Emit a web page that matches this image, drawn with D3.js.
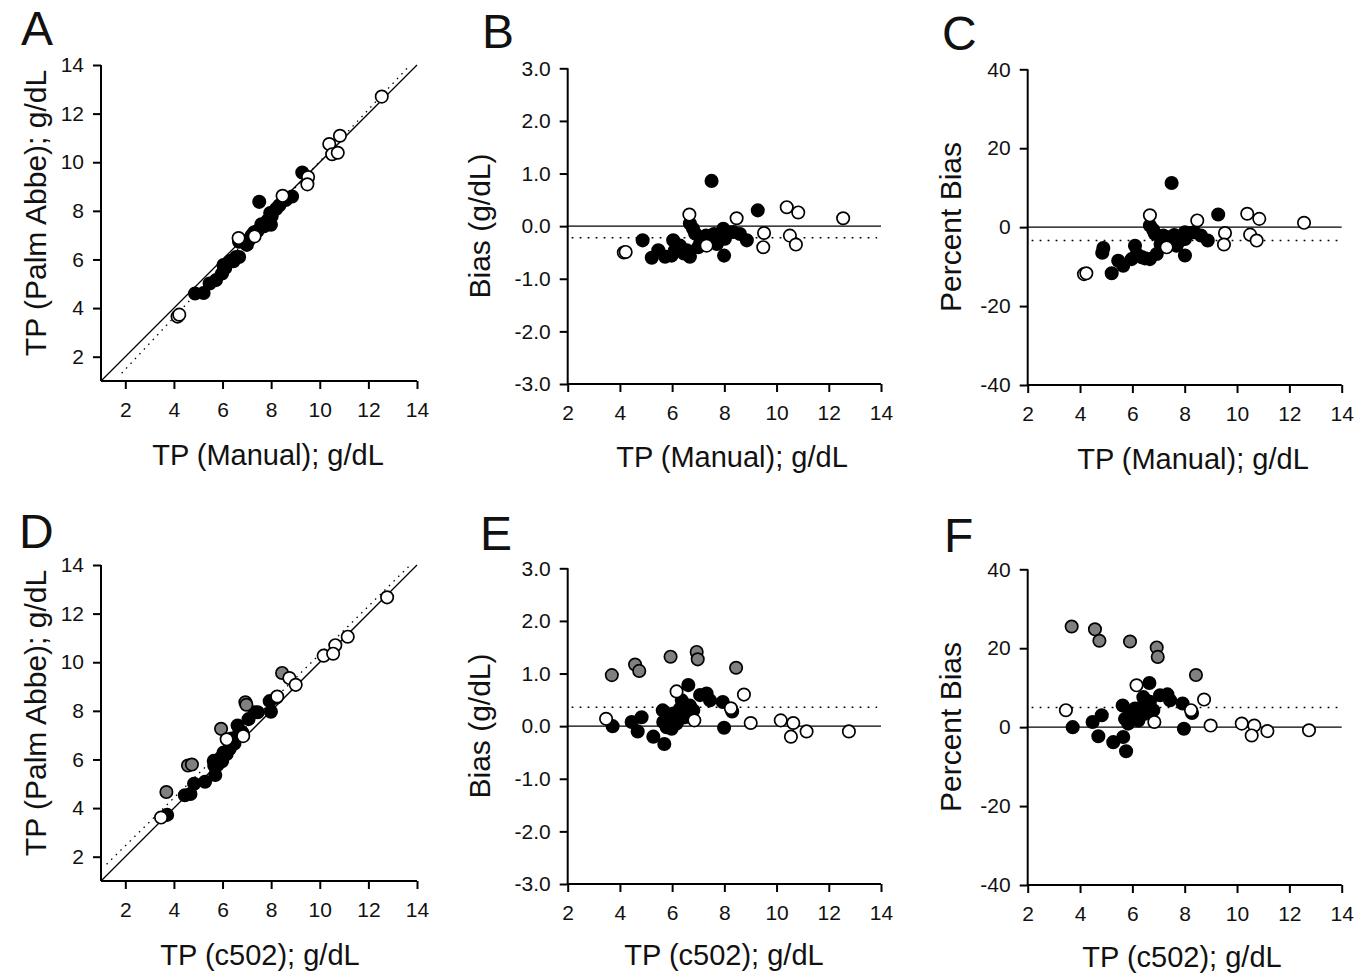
<!DOCTYPE html>
<html>
<head>
<meta charset="utf-8">
<script src="https://cdn.jsdelivr.net/npm/d3@7"></script>
<style>
  body { margin: 0; background: #fff; }
  svg { font-family: "Liberation Sans", Arial, sans-serif; }
  .axis path, .axis line { stroke: #000; stroke-width: 2; }
  .axis text { font-size: 21px; fill: #111; }
</style>
</head>
<body>
<div id="viz"></div>
<script>
// ---- data ----
// A: Manual vs Palm Abbe   [manual, palmAbbe]
var aOpen = [[4.15,3.65],[4.22,3.73],[6.66,6.88],[7.32,6.95],[8.47,8.62],[9.52,9.39],[9.49,9.09],
  [10.39,10.75],[10.83,11.09],[10.51,10.33],[10.74,10.39],[12.55,12.70]];
var aFilled = [[4.87,4.60],[5.22,4.62],[5.47,5.01],[5.73,5.15],[5.98,5.42],[6.04,5.77],[6.11,5.65],
  [6.30,5.93],[6.45,5.93],[6.56,6.10],[6.68,6.10],[6.68,6.73],[6.80,6.75],[6.88,6.74],[7.00,6.60],
  [7.08,6.78],[7.19,6.98],[7.30,7.12],[7.45,7.18],[7.51,8.37],[7.60,7.45],[7.71,7.37],[7.85,7.60],
  [7.96,7.91],[8.02,7.78],[7.99,7.43],[8.20,8.08],[8.34,8.23],[8.60,8.45],[8.86,8.59],[9.28,9.58]];
var aRegression = [[1.85,1.32],[13.65,13.93]];

// B: bias (g/dL) vs manual
var bOpen = [[4.15,-0.50],[4.22,-0.49],[6.66,0.22],[7.32,-0.37],[8.47,0.15],[9.52,-0.13],[9.49,-0.40],
  [10.39,0.36],[10.83,0.26],[10.51,-0.18],[10.74,-0.35],[12.55,0.15]];
var bFilled = [[4.87,-0.27],[5.22,-0.60],[5.47,-0.46],[5.73,-0.58],[5.98,-0.56],[6.04,-0.27],[6.11,-0.46],
  [6.30,-0.37],[6.45,-0.52],[6.56,-0.46],[6.68,-0.58],[6.68,0.05],[6.80,-0.05],[6.88,-0.14],[7.00,-0.40],
  [7.08,-0.30],[7.19,-0.21],[7.30,-0.18],[7.45,-0.27],[7.51,0.86],[7.60,-0.15],[7.71,-0.34],[7.85,-0.25],
  [7.96,-0.05],[8.02,-0.24],[7.99,-0.56],[8.20,-0.12],[8.34,-0.11],[8.60,-0.15],[8.86,-0.27],[9.28,0.30]];
var bMeanBias = -0.22;

// C: percent bias vs manual
var cOpen = [[4.15,-11.9],[4.24,-11.7],[6.67,3.0],[7.31,-5.1],[8.48,1.7],[9.54,-1.5],[9.50,-4.4],
  [10.39,3.4],[10.85,2.1],[10.50,-1.9],[10.75,-3.4],[12.56,1.1]];
var cFilled = [[4.89,-5.3],[4.85,-6.5],[5.21,-11.7],[5.46,-8.5],[5.65,-9.8],[5.97,-8.1],[6.10,-4.7],
  [6.17,-6.8],[6.36,-7.6],[6.48,-7.9],[6.67,-8.1],[6.67,0.4],[6.80,-0.7],[6.86,-1.7],[6.93,-6.8],
  [7.08,-4.4],[7.18,-2.1],[7.30,-2.5],[7.44,-3.8],[7.50,11.2],[7.60,-2.0],[7.69,-4.7],[7.85,-3.3],
  [8.01,-1.3],[8.01,-3.0],[8.01,-7.2],[8.20,-1.5],[8.37,-1.3],[8.62,-2.1],[8.88,-3.4],[9.28,3.2]];
var cMeanBias = -3.4;

// D: c502 vs Palm Abbe   [c502, palmAbbe]
var dOpen = [[3.47,3.61],[6.17,6.83],[6.85,6.96],[8.25,8.59],[8.75,9.35],[9.01,9.07],[10.16,10.27],
  [10.64,10.70],[10.55,10.35],[11.15,11.05],[12.77,12.67]];
var dGray = [[3.69,4.66],[4.58,5.75],[4.74,5.79],[5.94,7.26],[6.94,8.35],[6.98,8.25],[8.45,9.56]];
var dFilled = [[3.72,3.72],[4.45,4.53],[4.83,5.00],[4.68,4.58],[5.28,5.08],[5.70,5.36],[5.64,5.94],
  [5.66,5.74],[5.79,5.77],[5.92,6.06],[6.04,6.28],[6.17,6.22],[6.30,6.63],[6.37,6.86],[6.62,7.40],
  [6.49,6.66],[6.68,7.07],[6.81,7.11],[7.07,7.66],[7.32,7.94],[7.45,7.94],[7.94,8.40],[7.99,7.96],
  [8.22,8.55],[6.30,6.44],[5.98,5.93]];
var dRegression = [[1.23,1.69],[13.65,13.93]];

// E: bias (g/dL) vs c502
var eOpen = [[3.47,0.14],[6.17,0.66],[6.85,0.11],[8.25,0.34],[8.75,0.60],[9.01,0.06],[10.16,0.11],
  [10.64,0.06],[10.55,-0.20],[11.15,-0.10],[12.77,-0.10]];
var eGray = [[3.69,0.97],[4.58,1.17],[4.74,1.05],[5.94,1.32],[6.94,1.41],[6.98,1.27],[8.45,1.11]];
var eFilled = [[3.72,0.00],[4.45,0.08],[4.83,0.17],[4.68,-0.10],[5.28,-0.20],[5.70,-0.34],[5.64,0.30],
  [5.66,0.08],[5.79,-0.02],[5.92,0.14],[6.04,0.24],[6.17,0.05],[6.30,0.33],[6.37,0.49],[6.62,0.78],
  [6.49,0.17],[6.68,0.39],[6.81,0.30],[7.07,0.59],[7.32,0.62],[7.45,0.49],[7.94,0.46],[7.99,-0.03],
  [8.30,0.28],[6.30,0.14],[5.98,-0.05]];
var eMeanBias = 0.36;

// F: percent bias vs c502
var fOpen = [[3.46,4.3],[6.16,10.6],[6.84,1.3],[8.24,4.3],[8.74,7.0],[8.99,0.4],[10.18,0.9],
  [10.66,0.4],[10.56,-2.1],[11.16,-1.0],[12.75,-0.8]];
var fGray = [[3.68,25.5],[4.57,24.8],[4.74,21.9],[5.91,21.7],[6.93,20.2],[6.97,17.8],[8.43,13.2]];
var fFilled = [[3.72,0.0],[4.48,1.3],[4.83,3.0],[4.70,-2.3],[5.27,-3.8],[5.65,-2.5],[5.76,-6.1],
  [5.63,5.5],[5.72,2.1],[5.84,0.9],[5.97,3.4],[6.10,4.7],[6.23,1.7],[6.36,5.1],[6.42,7.6],[6.65,11.2],
  [6.48,3.4],[6.67,6.4],[6.80,4.3],[7.06,8.1],[7.34,8.3],[7.44,6.8],[7.92,6.0],[7.97,-0.4],[8.28,3.6]];
var fMeanBias = 5.0;

var xTicks = [2, 4, 6, 8, 10, 12, 14];
var yTicksTP = [2, 4, 6, 8, 10, 12, 14];
var yTicksBias = [-3, -2, -1, 0, 1, 2, 3];
var yTicksPct = [-40, -20, 0, 20, 40];

// ---- drawing ----
var svg = d3.select("#viz").append("svg")
    .attr("width", 1358)
    .attr("height", 975);

var fills = { open: "#fff", filled: "#000", gray: "#808080" };

function drawPanel(p) {
    var x = d3.scaleLinear().domain(p.xDomain).range(p.xRange);
    var y = d3.scaleLinear().domain(p.yDomain).range(p.yRange);
    var g = svg.append("g");

    g.append("g")
        .attr("class", "axis")
        .attr("transform", "translate(0," + p.yRange[0] + ")")
        .call(d3.axisBottom(x).tickValues(xTicks).tickSize(8).tickSizeOuter(0).tickPadding(13))
        .call(a => a.select(".domain").attr("d", "M" + p.xRange[0] + ",0H" + p.xRange[1]));

    g.append("g")
        .attr("class", "axis")
        .attr("transform", "translate(" + p.xRange[0] + ",0)")
        .call(d3.axisLeft(y).tickValues(p.yTicks).tickSize(8).tickSizeOuter(0).tickPadding(9)
            .tickFormat(p.yFormat))
        .call(a => a.select(".domain").attr("d", "M0," + p.yRange[0] + "V" + p.yRange[1]));

    // reference lines
    var line = d3.line().x(d => x(d[0])).y(d => y(d[1]));
    if (p.identity) {
        g.append("path").attr("d", line([[p.xDomain[0], p.yDomain[0]], [p.xDomain[1], p.yDomain[1]]]))
            .attr("stroke", "#000").attr("stroke-width", 1.3).attr("fill", "none");
        g.append("path").attr("d", line(p.regression))
            .attr("stroke", "#000").attr("stroke-width", 1.3).attr("fill", "none")
            .attr("stroke-dasharray", "1.5,5");
    } else {
        g.append("path").attr("d", line([[p.xDomain[0], 0], [p.xDomain[1], 0]]))
            .attr("stroke", "#000").attr("stroke-width", 1.3).attr("fill", "none");
        g.append("path").attr("d", line([[2.15, p.meanBias], [13.85, p.meanBias]]))
            .attr("stroke", "#000").attr("stroke-width", 1.5).attr("fill", "none")
            .attr("stroke-dasharray", "1.8,6.2");
    }

    p.series.forEach(function(s) {
        g.append("g").selectAll("circle")
            .data(s.data).enter()
            .append("circle")
            .attr("cx", d => x(d[0]))
            .attr("cy", d => y(d[1]))
            .attr("r", 6.2)
            .attr("fill", fills[s.type])
            .attr("stroke", "#000")
            .attr("stroke-width", 1.7);
    });

    g.append("text")
        .attr("x", p.xTitle[0]).attr("y", p.xTitle[1])
        .attr("text-anchor", "middle")
        .attr("font-size", 29).attr("fill", "#111")
        .text(p.xLabel);

    g.append("text")
        .attr("transform", "translate(" + p.yTitle[0] + "," + p.yTitle[1] + ") rotate(-90)")
        .attr("text-anchor", "middle")
        .attr("font-size", 30).attr("fill", "#111")
        .text(p.yLabel);

    g.append("text")
        .attr("x", p.letterPos[0]).attr("y", p.letterPos[1])
        .attr("font-size", 48).attr("fill", "#111")
        .text(p.letter);
}

var fmtInt = d => String(d);
var fmtBias = d => d.toFixed(1);

var panels = [
  { letter: "A", letterPos: [21, 45], xDomain: [1, 14], yDomain: [1, 14], xRange: [101, 417], yRange: [381, 65],
    yTicks: yTicksTP, yFormat: fmtInt, identity: true, regression: aRegression,
    xLabel: "TP (Manual); g/dL", yLabel: "TP (Palm Abbe); g/dL", xTitle: [268, 465], yTitle: [46, 213],
    series: [{type: "filled", data: aFilled}, {type: "open", data: aOpen}] },
  { letter: "B", letterPos: [482, 48], xDomain: [2, 14], yDomain: [-3, 3], xRange: [567.7, 881], yRange: [384, 68.3],
    yTicks: yTicksBias, yFormat: fmtBias, meanBias: bMeanBias,
    xLabel: "TP (Manual); g/dL", yLabel: "Bias (g/dL)", xTitle: [732, 467], yTitle: [490, 226],
    series: [{type: "filled", data: bFilled}, {type: "open", data: bOpen}] },
  { letter: "C", letterPos: [942, 50], xDomain: [2, 14], yDomain: [-40, 40], xRange: [1027.7, 1341.7], yRange: [385, 69.3],
    yTicks: yTicksPct, yFormat: fmtInt, meanBias: cMeanBias,
    xLabel: "TP (Manual); g/dL", yLabel: "Percent Bias", xTitle: [1193, 469], yTitle: [961, 227],
    series: [{type: "filled", data: cFilled}, {type: "open", data: cOpen}] },
  { letter: "D", letterPos: [19, 548], xDomain: [1, 14], yDomain: [1, 14], xRange: [101, 417], yRange: [881, 565],
    yTicks: yTicksTP, yFormat: fmtInt, identity: true, regression: dRegression,
    xLabel: "TP (c502); g/dL", yLabel: "TP (Palm Abbe); g/dL", xTitle: [260, 965], yTitle: [46, 713],
    series: [{type: "filled", data: dFilled}, {type: "gray", data: dGray}, {type: "open", data: dOpen}] },
  { letter: "E", letterPos: [480, 550], xDomain: [2, 14], yDomain: [-3, 3], xRange: [567.7, 881], yRange: [884, 568.3],
    yTicks: yTicksBias, yFormat: fmtBias, meanBias: eMeanBias,
    xLabel: "TP (c502); g/dL", yLabel: "Bias (g/dL)", xTitle: [724, 965], yTitle: [490, 726],
    series: [{type: "filled", data: eFilled}, {type: "gray", data: eGray}, {type: "open", data: eOpen}] },
  { letter: "F", letterPos: [944, 552], xDomain: [2, 14], yDomain: [-40, 40], xRange: [1027.7, 1341.7], yRange: [885, 569.3],
    yTicks: yTicksPct, yFormat: fmtInt, meanBias: fMeanBias,
    xLabel: "TP (c502); g/dL", yLabel: "Percent Bias", xTitle: [1182, 967], yTitle: [961, 727],
    series: [{type: "filled", data: fFilled}, {type: "gray", data: fGray}, {type: "open", data: fOpen}] }
];

panels.forEach(drawPanel);
</script>
</body>
</html>
